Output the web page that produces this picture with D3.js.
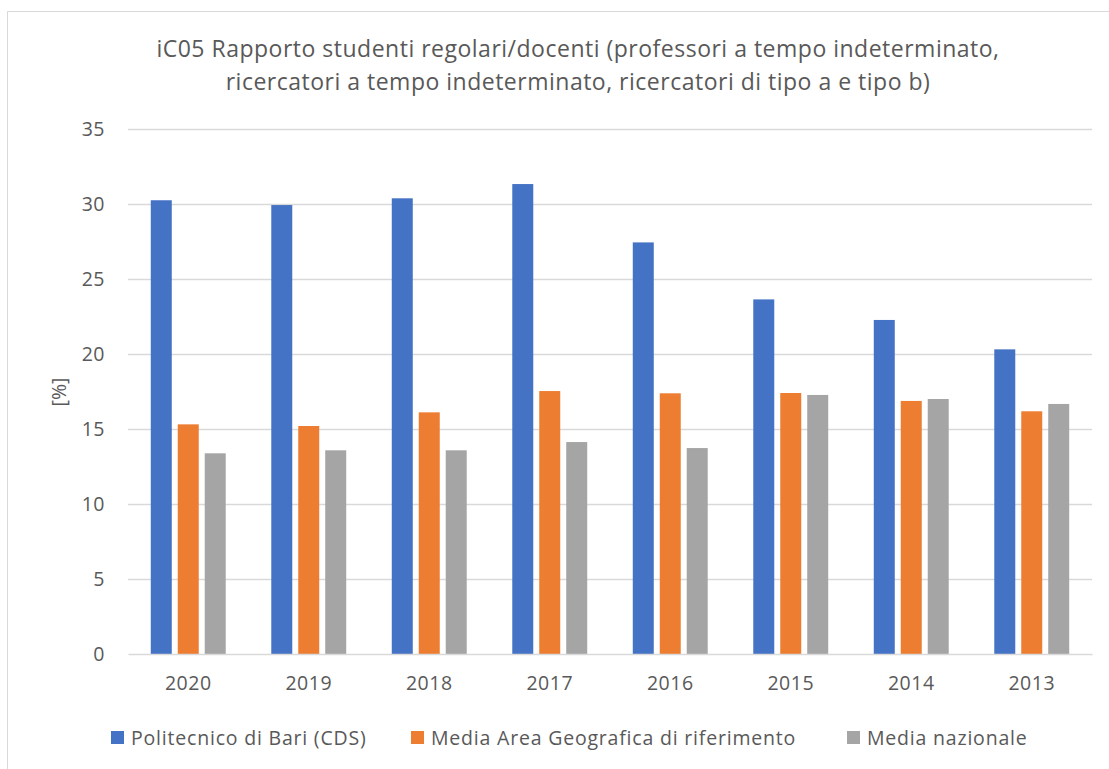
<!DOCTYPE html>
<html>
<head>
<meta charset="utf-8">
<script src="https://cdn.jsdelivr.net/npm/d3@7"></script>
<style>
  body { margin: 0; background: #fff; }
  text { font-family: "Open Sans", sans-serif; fill: #595959; }
</style>
</head>
<body>
<div id="chart"></div>
<script>
const years = ["2020", "2019", "2018", "2017", "2016", "2015", "2014", "2013"]
const seriesNames = ["Politecnico di Bari (CDS)", "Media Area Geografica di riferimento", "Media nazionale"]
const politecnico = [30.25, 29.93, 30.38, 31.33, 27.44, 23.64, 22.27, 20.31]
const mediaArea = [15.31, 15.2, 16.11, 17.53, 17.38, 17.4, 16.87, 16.18]
const mediaNazionale = [13.38, 13.58, 13.58, 14.13, 13.73, 17.27, 17.0, 16.67]
const yTicks = [0, 5, 10, 15, 20, 25, 30, 35]
const titleLines = [
    "iC05 Rapporto studenti regolari/docenti (professori a tempo indeterminato,",
    "ricercatori a tempo indeterminato, ricercatori di tipo a e tipo b)"
]

const colors = ["#4472c4", "#ed7d31", "#a5a5a5"]
const allSeries = [politecnico, mediaArea, mediaNazionale]

const width = 1109
const height = 769
const plot = { left: 128, right: 1092, top: 129, bottom: 654 }
const labelSize = '19.5px'

const svg = d3.select('#chart')
    .append('svg')
        .attr("width", width)
        .attr("height", height)

// frame
svg.append('path')
    .attr('d', 'M7.5,769 V11.5 H1109')
    .attr('fill', 'none')
    .attr('stroke', '#d9d9d9')
    .attr('stroke-width', 1)

const yScale = d3.scaleLinear()
    .domain([0, 35])
    .range([plot.bottom, plot.top])

const xScale = d3.scaleBand()
    .domain(years)
    .range([plot.left, plot.right])
    .paddingInner(0.378)
    .paddingOuter(0.189)

const x1 = d3.scaleBand()
    .domain(d3.range(allSeries.length))
    .range([0, xScale.bandwidth()])
    .paddingInner(0.222)

// grid
svg.append('g')
    .attr('transform', 'translate(' + plot.left + ',0)')
    .call(d3.axisLeft(yScale)
        .tickValues(yTicks.slice(1))
        .tickSize(-(plot.right - plot.left))
        .tickFormat(''))
    .call(g => g.select('.domain').remove())
    .call(g => g.selectAll('line').attr('stroke', '#d9d9d9').attr('stroke-width', 1.3))

// y labels
svg.append('g')
    .attr('transform', 'translate(' + plot.left + ',0)')
    .call(d3.axisLeft(yScale).tickValues(yTicks).tickSize(0).tickPadding(23))
    .call(g => g.select('.domain').remove())
    .call(g => g.selectAll('text')
        .style('font-size', labelSize)
        .style('letter-spacing', '0.5px')
        .attr('fill', '#595959'))

// bars
const groups = svg.selectAll('.year')
    .data(years)
    .enter()
    .append('g')
        .attr('transform', d => 'translate(' + xScale(d) + ',0)')

groups.selectAll('rect')
    .data((d, i) => allSeries.map((s, k) => ({ k: k, value: s[i] })))
    .enter()
    .append('rect')
        .attr('x', d => x1(d.k))
        .attr('y', d => yScale(d.value))
        .attr('width', x1.bandwidth())
        .attr('height', d => plot.bottom - yScale(d.value))
        .attr('fill', d => colors[d.k])

// x axis
svg.append('g')
    .attr('transform', 'translate(0,' + plot.bottom + ')')
    .call(d3.axisBottom(xScale).tickSize(0).tickPadding(22))
    .call(g => g.select('.domain').attr('stroke', '#d9d9d9').attr('stroke-width', 1.3))
    .call(g => g.selectAll('text')
        .style('font-size', labelSize)
        .style('letter-spacing', '0.5px')
        .attr('fill', '#595959'))

// title
svg.append('g').selectAll('text')
    .data(titleLines)
    .enter()
    .append('text')
        .attr('x', 578)
        .attr('y', (d, i) => 57 + i * 33)
        .attr('text-anchor', 'middle')
        .style('font-size', '23px')
        .style('letter-spacing', '0.5px')
        .text(d => d)

// y axis title
svg.append('text')
    .attr('transform', 'translate(66,392) rotate(-90)')
    .attr('text-anchor', 'middle')
    .style('font-size', labelSize)
    .text('[%]')

// legend
const legendX = [111, 411, 847]
const legend = svg.selectAll('.legend')
    .data(seriesNames)
    .enter()
    .append('g')
        .attr('transform', (d, i) => 'translate(' + legendX[i] + ',731)')

legend.append('rect')
    .attr('width', 13)
    .attr('height', 13)
    .attr('fill', (d, i) => colors[i])

legend.append('text')
    .attr('x', 20)
    .attr('y', 14)
    .style('font-size', labelSize)
    .style('letter-spacing', '0.8px')
    .text(d => d)
</script>
</body>
</html>
